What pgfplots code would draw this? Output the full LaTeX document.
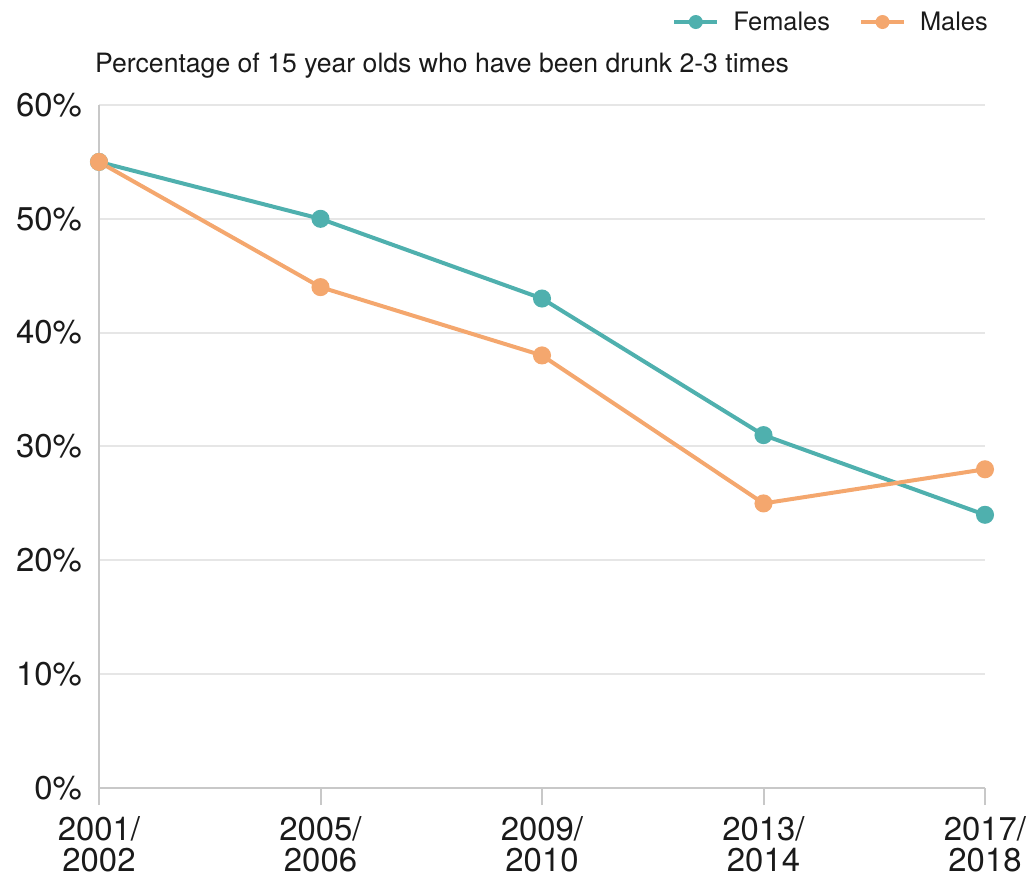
\documentclass[border=0pt]{standalone}
\usepackage{pgfplots}
\pgfplotsset{compat=1.18}
\usepackage{fontspec}
\setmainfont{TeX Gyre Heros}
\definecolor{teal1}{HTML}{4FB0AE}
\definecolor{orange1}{HTML}{F4A76E}
\definecolor{gridc}{HTML}{E6E6E6}
\definecolor{axisc}{HTML}{C8C8C8}
\definecolor{txt}{HTML}{1A1A1A}
\begin{document}
\begin{tikzpicture}
\begin{axis}[
  at={(99bp,89bp)}, anchor=south west,
  scale only axis, width=886bp, height=683bp,
  xmin=0, xmax=4, ymin=0, ymax=60,
  xtick={0,1,2,3,4},
  xticklabels={2001/\\2002,2005/\\2006,2009/\\2010,2013/\\2014,2017/\\2018},
  ytick={0,10,20,30,40,50,60},
  yticklabels={0\%,10\%,20\%,30\%,40\%,50\%,60\%},
  axis x line*=bottom, axis y line*=left,
  axis line style={draw=axisc, line width=2bp, -},
  ymajorgrids, grid style={draw=gridc, line width=2bp},
  ytick style={draw=none},
  xtick style={draw=axisc, line width=2bp},
  tick align=outside, major tick length=17bp,
  ticklabel style={text=txt, font=\fontsize{33}{31.5}\selectfont},
  xticklabel style={align=center, inner sep=0pt, anchor=north, yshift=-11bp},
  yticklabel style={inner sep=0pt, anchor=east, xshift=0bp},
  clip=false,
  legend columns=2,
  legend style={draw=none, fill=none, inner sep=0pt, at={(axis description cs:1.0056,1.1215)}, anchor=east,
    font=\fontsize{25.5}{30}\selectfont, text=txt,
    /tikz/every even column/.append style={column sep=27bp}},
  legend image code/.code={
    \draw[#1, line width=4bp] (0bp,0bp) -- (43bp,0bp);
    \fill[#1, draw=none] (21.5bp,0bp) circle (7bp);
  },
  legend cell align=left,
]
\addplot[teal1, line width=4bp, mark=*, mark size=7bp, mark options={draw=none, fill=teal1}]
  coordinates {(0,55) (1,50) (2,43) (3,31) (4,24)};
\addlegendentry{\hspace*{12bp}Females}
\addplot[orange1, line width=4bp, mark=*, mark size=7bp, mark options={draw=none, fill=orange1}]
  coordinates {(0,55) (1,44) (2,38) (3,25) (4,28)};
\addlegendentry{\hspace*{12bp}Males}
\end{axis}
\node[anchor=base west, inner sep=0pt, text=txt, font=\fontsize{26.7}{30}\selectfont] at (95bp,804bp) {Percentage of 15 year olds who have been drunk 2-3 times};
\pgfresetboundingbox
\path[use as bounding box] (0,0) rectangle (1027bp,877bp);
\end{tikzpicture}
\end{document}
